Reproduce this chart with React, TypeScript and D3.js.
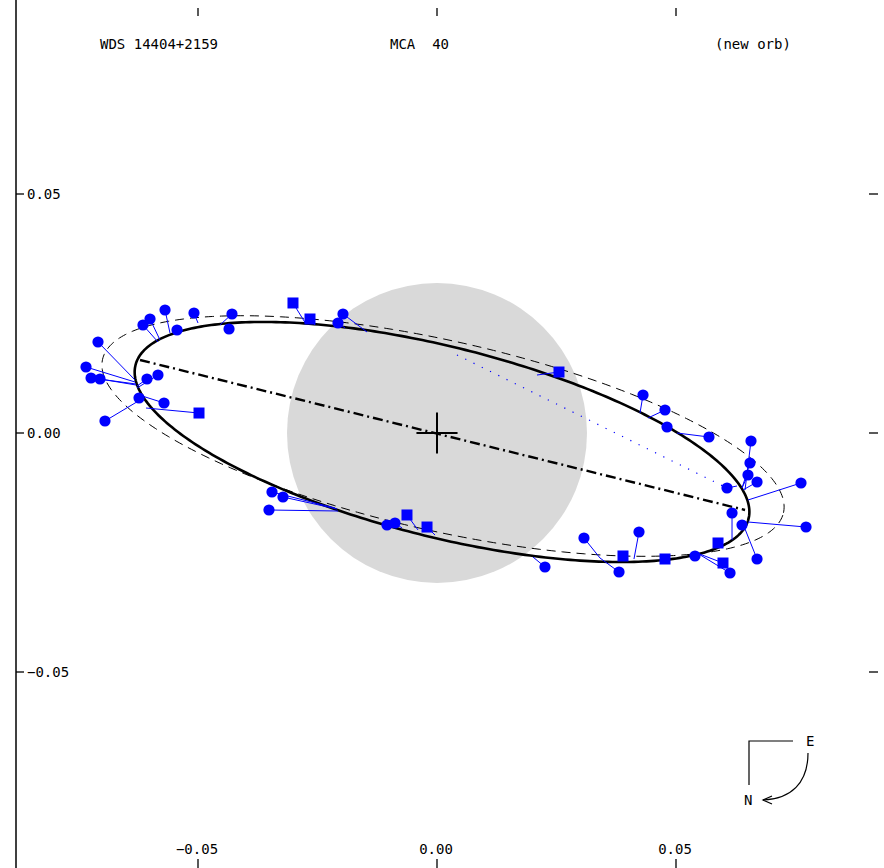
import React from "react";
import * as d3 from "d3";

const W = 884;
const H = 868;

const titleLeft = "WDS 14404+2159";
const titleMid = "MCA  40";
const titleRight = "(new orb)";

const xTicks = [-0.05, 0.0, 0.05];
const yTicks = [0.05, 0.0, -0.05];

// ellipse params: [cx, cy, semi-major, semi-minor, rotation deg]
const newOrbit = [0.00105, -0.00188, 0.06611, 0.01987, -14.1];
const oldOrbit = [0.00126, -0.00063, 0.07301, 0.01987, -12.7];
// line of apsides endpoints [x1, y1, x2, y2]
const apsides = [-0.06213, 0.01527, 0.06444, -0.01611];
// dotted chord [x1, y1, x2, y2]
const dottedLine = [0.00418, 0.01632, 0.06067, -0.01151];
const diskRadius = 0.03138;
const crossHalf = 0.0043;

const obsShape = [
  "c","c","c","c","c","c","c","c","c","c","c","c","c","c","c","s","c",
  "s","s","c","c","s",
  "c","c","c","s","s","c","c",
  "c","c","c","s","c","s","c","s","c","s","c","c","c","c","c","c","c","c","c","c","c","c","c","c",
];
const obsX = [
  -0.0569, -0.05084, -0.04289, -0.06004, -0.06151, -0.05439, -0.04351, -0.07092, -0.07343, -0.07238, -0.0705, -0.05837, -0.06067, -0.06234, -0.05711, -0.04979, -0.06946,
  -0.03013, -0.02657, -0.01967, -0.02071, 0.02552,
  -0.03452, -0.03222, -0.03515, -0.00628, -0.00209, -0.01046, -0.00879,
  0.02259, 0.03075, 0.03808, 0.03891, 0.04226, 0.0477, 0.05397, 0.05983, 0.0613, 0.05879, 0.06381, 0.06695, 0.0772, 0.07615, 0.06172, 0.06067, 0.06695, 0.06506, 0.06548, 0.06569, 0.0569, 0.04812, 0.0477, 0.0431,
];
const obsY = [
  0.02573, 0.0251, 0.0249, 0.02385, 0.02259, 0.02155, 0.02176, 0.01904, 0.01381, 0.01151, 0.0113, 0.01213, 0.0113, 0.00732, 0.00628, 0.00418, 0.00251,
  0.0272, 0.02385, 0.0249, 0.02301, 0.01276,
  -0.01234, -0.01339, -0.01611, -0.01715, -0.01967, -0.01925, -0.01883,
  -0.02803, -0.02197, -0.02908, -0.02573, -0.02071, -0.02636, -0.02573, -0.0272, -0.02929, -0.02301, -0.01925, -0.02636, -0.01967, -0.01046, -0.01674, -0.01151, -0.01025, -0.00879, -0.00628, -0.00167, -0.00084, 0.00126, 0.00481, 0.00795,
];
const predX = [
  -0.05586, -0.05, -0.0454, -0.05795, -0.05837, -0.05314, -0.04435, -0.06318, -0.06318, -0.06297, -0.06297, -0.06276, -0.06276, -0.06255, -0.06234, -0.06088, -0.06213,
  -0.02741, -0.02552, -0.01464, -0.01925, 0.02092,
  -0.02134, -0.02092, -0.02071, -0.00397, -0.00042, -0.00941, -0.00732,
  0.02008, 0.0341, 0.0341, 0.03933, 0.04121, 0.0477, 0.05356, 0.05439, 0.05439, 0.05962, 0.06444, 0.06402, 0.06506, 0.06506, 0.06172, 0.06276, 0.06402, 0.06381, 0.06381, 0.06444, 0.05021, 0.04833, 0.04414, 0.04247,
];
const predY = [
  0.02092, 0.02301, 0.02259, 0.01946, 0.01904, 0.02134, 0.02259, 0.01109, 0.01067, 0.01025, 0.01004, 0.00941, 0.00983, 0.00774, 0.00795, 0.00523, 0.0069,
  0.0228, 0.02259, 0.02113, 0.02197, 0.01213,
  -0.01569, -0.0159, -0.01632, -0.02029, -0.02134, -0.01946, -0.01987,
  -0.02594, -0.02615, -0.02615, -0.02657, -0.02636, -0.02615, -0.02552, -0.0251, -0.0251, -0.0228, -0.01862, -0.01904, -0.01862, -0.01402, -0.02238, -0.01109, -0.01192, -0.01151, -0.01151, -0.01192, 0.0, 0.00146, 0.00314, 0.00418,
];

const FONT = "'DejaVu Sans Mono', 'Liberation Mono', monospace";

function ellipsePath(p: number[], x: any, y: any) {
  const [cx, cy, a, b, ang] = p;
  const phi = (ang * Math.PI) / 180;
  const pts = d3.range(0, 361).map((d) => {
    const t = (d * Math.PI) / 180;
    const ex = cx + a * Math.cos(t) * Math.cos(phi) - b * Math.sin(t) * Math.sin(phi);
    const ey = cy + a * Math.cos(t) * Math.sin(phi) + b * Math.sin(t) * Math.cos(phi);
    return [ex, ey] as [number, number];
  });
  return d3.line().x((d) => x(d[0])).y((d) => y(d[1]))(pts) as string;
}

export default function App() {
  const x = d3.scaleLinear().domain([-0.05, 0.05]).range([198, 676]);
  const y = d3.scaleLinear().domain([0.05, -0.05]).range([194, 672]);
  const fmt = d3.format(".2f");
  const r0 = x(diskRadius) - x(0);
  const ch = x(crossHalf) - x(0);
  const blue = "#0000ff";
  const cx0 = W - 135;
  const cy0 = H - 127;

  return (
    <div style={{ position: "absolute", left: 0, top: 0, width: W, height: H, background: "#fff" }}>
      <svg width={W} height={H} style={{ display: "block" }}>
        <rect width={W} height={H} fill="#fff" />
        {/* grey disk */}
        <circle cx={x(0)} cy={y(0)} r={r0} fill="#d9d9d9" />
        {/* old orbit dashed */}
        <path d={ellipsePath(oldOrbit, x, y)} fill="none" stroke="#000" strokeWidth={1} strokeDasharray="9,6" />
        {/* new orbit */}
        <path d={ellipsePath(newOrbit, x, y)} fill="none" stroke="#000" strokeWidth={2.6} />
        {/* apsides */}
        <line x1={x(apsides[0])} y1={y(apsides[1])} x2={x(apsides[2])} y2={y(apsides[3])} stroke="#000" strokeWidth={2.4} strokeDasharray="10,4,2,4" />
        {/* dotted */}
        <line x1={x(dottedLine[0])} y1={y(dottedLine[1])} x2={x(dottedLine[2])} y2={y(dottedLine[3])} stroke={blue} strokeWidth={1.2} strokeDasharray="1.2,8" />
        {/* cross */}
        <line x1={x(-crossHalf)} x2={x(crossHalf)} y1={y(0)} y2={y(0)} stroke="#000" strokeWidth={2} />
        <line x1={x(0)} x2={x(0)} y1={y(0) - ch} y2={y(0) + ch} stroke="#000" strokeWidth={2} />
        {/* O-C lines */}
        {obsX.map((v, i) => (
          <line key={"l" + i} x1={x(v)} y1={y(obsY[i])} x2={x(predX[i])} y2={y(predY[i])} stroke={blue} strokeWidth={1} />
        ))}
        {/* markers */}
        {obsX.map((v, i) =>
          obsShape[i] === "s" ? (
            <rect key={"m" + i} x={x(v) - 5.5} y={y(obsY[i]) - 5.5} width={11} height={11} fill={blue} />
          ) : (
            <circle key={"m" + i} cx={x(v)} cy={y(obsY[i])} r={5.6} fill={blue} />
          )
        )}
        {/* left axis */}
        <line x1={16} x2={16} y1={0} y2={H} stroke="#000" strokeWidth={1.5} />
        {yTicks.map((t) => (
          <g key={"yt" + t}>
            <line x1={16} x2={24} y1={y(t)} y2={y(t)} stroke="#000" strokeWidth={1.3} />
            <line x1={869} x2={878} y1={y(t)} y2={y(t)} stroke="#000" strokeWidth={1.3} />
            <text x={27} y={y(t) + 5} fontFamily={FONT} fontSize={14} fill="#000">{fmt(t)}</text>
          </g>
        ))}
        {xTicks.map((t) => (
          <g key={"xt" + t}>
            <line x1={x(t)} x2={x(t)} y1={8} y2={16} stroke="#000" strokeWidth={1.3} />
            <line x1={x(t)} x2={x(t)} y1={859} y2={868} stroke="#000" strokeWidth={1.3} />
            <text x={x(t) - 1} y={854} textAnchor="middle" fontFamily={FONT} fontSize={14} fill="#000">{fmt(t)}</text>
          </g>
        ))}
        {/* titles */}
        <text x={100} y={49} fontFamily={FONT} fontSize={14} fill="#000" style={{ whiteSpace: "pre" }}>{titleLeft}</text>
        <text x={390} y={49} fontFamily={FONT} fontSize={14} fill="#000" style={{ whiteSpace: "pre" }} xmlSpace="preserve">{titleMid}</text>
        <text x={715} y={49} fontFamily={FONT} fontSize={14} fill="#000" style={{ whiteSpace: "pre" }}>{titleRight}</text>
        {/* compass */}
        <g stroke="#000" fill="none" strokeWidth={1.2}>
          <polyline points={`${cx0 + 44},${cy0} ${cx0},${cy0} ${cx0},${cy0 + 44}`} />
          <path d={`M${cx0 + 59},${cy0 + 12} C${cx0 + 59},${cy0 + 42} ${cx0 + 42},${cy0 + 58} ${cx0 + 14},${cy0 + 59}`} />
          <polyline points={`${cx0 + 23},${cy0 + 55} ${cx0 + 14},${cy0 + 59} ${cx0 + 23},${cy0 + 63}`} />
        </g>
        <text x={cx0 + 57} y={cy0 + 5} fontFamily={FONT} fontSize={14} fill="#000">E</text>
        <text x={cx0 - 5} y={cy0 + 64} fontFamily={FONT} fontSize={14} fill="#000">N</text>
      </svg>
    </div>
  );
}
